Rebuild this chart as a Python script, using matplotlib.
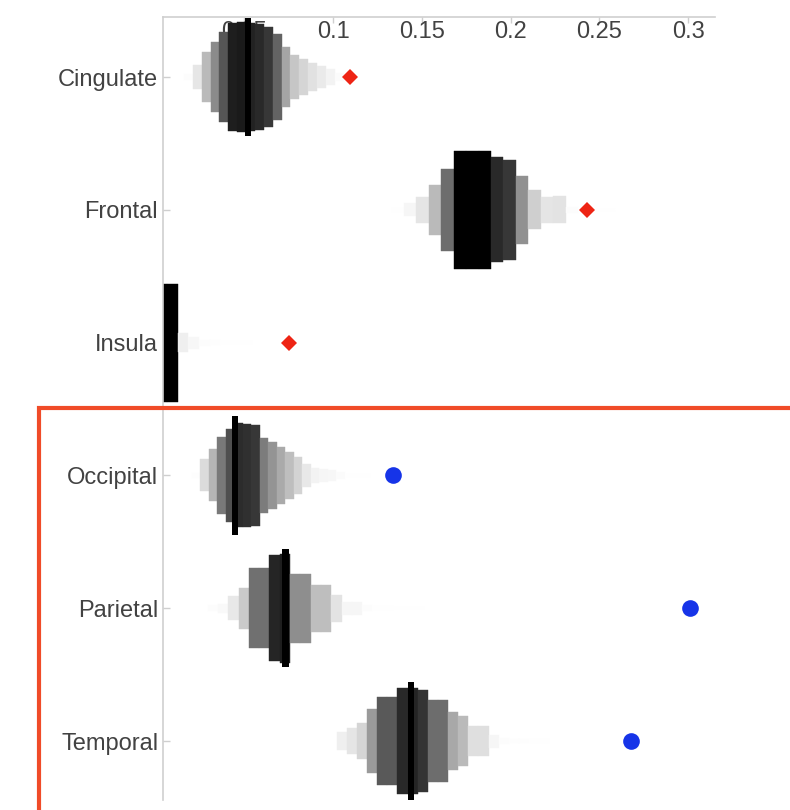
import matplotlib
matplotlib.use("Agg")
import matplotlib.pyplot as plt
from matplotlib.patches import Rectangle

plt.rcParams["font.family"] = ["Liberation Sans", "DejaVu Sans"]

# Brain regions, one row each (top to bottom)
regions = ["Cingulate", "Frontal", "Insula", "Occipital", "Parietal", "Temporal"]

# Median of each null distribution
medians = [0.0521, 0.178, 0.009, 0.0448, 0.0734, 0.1439]

# Observed statistic per region
observed = [0.1096, 0.243, 0.0752, 0.1338, 0.301, 0.268]
observed_marker = ["D", "D", "D", "o", "o", "o"]
observed_color = ["#ee2414", "#ee2414", "#ee2414", "#1634e8", "#1634e8", "#1634e8"]

# Histogram bins: first left edge and bin width per region
bin_start = [0.016, 0.133, 0.0005, 0.0203, 0.0294, 0.1021]
bin_width = [0.005, 0.007, 0.006, 0.0048, 0.0058, 0.0057]

# Relative bin densities (1 = tallest bin overall)
cingulate_bins = [0.05, 0.21, 0.42, 0.59, 0.76, 0.92, 0.93, 0.91, 0.89, 0.85,
                  0.72, 0.50, 0.37, 0.30, 0.24, 0.19, 0.13, 0.06, 0.03]
frontal_bins = [0.03, 0.11, 0.22, 0.42, 0.69, 1.0, 1.0, 1.0, 0.89, 0.85, 0.57,
                0.33, 0.22, 0.23, 0.05, 0.02, 0.02, 0.02, 0.01, 0.01, 0.01]
insula_bins = [1.0, 1.0, 0.16, 0.10, 0.05, 0.04, 0.03, 0.03, 0.02]
occipital_bins = [0.04, 0.27, 0.44, 0.65, 0.78, 0.88, 0.87, 0.85, 0.64, 0.56,
                  0.48, 0.40, 0.31, 0.20, 0.13, 0.11, 0.10, 0.06, 0.02, 0.02, 0.02]
parietal_bins = [0.05, 0.08, 0.20, 0.35, 0.68, 0.68, 0.90, 0.92, 0.58, 0.58,
                 0.40, 0.40, 0.23, 0.11, 0.11, 0.05, 0.03, 0.03, 0.02, 0.02, 0.02]
temporal_bins = [0.16, 0.22, 0.30, 0.54, 0.75, 0.75, 0.89, 0.90, 0.86, 0.69,
                 0.69, 0.49, 0.42, 0.25, 0.25, 0.11, 0.05, 0.04, 0.04, 0.03, 0.03]

all_bins = [cingulate_bins, frontal_bins, insula_bins,
            occipital_bins, parietal_bins, temporal_bins]

x_ticks = [0.05, 0.1, 0.15, 0.2, 0.25, 0.3]
x_tick_labels = ["0.05", "0.1", "0.15", "0.2", "0.25", "0.3"]

ROW_HEIGHT = 0.89
MEDIAN_WIDTH = 0.0038
TEXT_COLOR = "#424242"
AXIS_COLOR = "#cfcfcf"

fig = plt.figure(figsize=(7.9, 8.1), dpi=100)
ax = fig.add_axes([163 / 790, 1 - 800 / 810, (715 - 163) / 790, (800 - 17) / 810])
ax.set_axisbelow(True)

for row, (dens, x0, w) in enumerate(zip(all_bins, bin_start, bin_width)):
    lefts = [x0 + i * w for i in range(len(dens))]
    heights = [d * ROW_HEIGHT for d in dens]
    shades = [str(max(0.0, 1 - d ** 1.5)) for d in dens]
    ax.barh([row] * len(dens), [w] * len(dens), left=lefts, height=heights,
            color=shades, edgecolor=shades, linewidth=0.3, zorder=1)
    ax.barh(row, MEDIAN_WIDTH, left=medians[row] - MEDIAN_WIDTH / 2,
            height=ROW_HEIGHT, color="black", linewidth=0, zorder=2)
    ms = 8.5 if observed_marker[row] == "D" else 12
    ax.plot(observed[row], row, marker=observed_marker[row], ms=ms,
            color=observed_color[row], markeredgewidth=0, linestyle="none", zorder=3)

ax.set_xlim(0.0042, 0.3152)
ax.set_ylim(5.444, -0.452)

ax.set_yticks(range(len(regions)))
ax.set_yticklabels(regions)
ax.set_xticks(x_ticks)
ax.set_xticklabels(x_tick_labels)
ax.xaxis.set_ticks_position("top")
ax.tick_params(axis="x", direction="in", length=4, width=1, color=AXIS_COLOR,
               pad=-19, labelsize=17, labelcolor=TEXT_COLOR)
ax.tick_params(axis="y", direction="in", length=5, width=1, color=AXIS_COLOR,
               pad=3.5, labelsize=17, labelcolor=TEXT_COLOR)

for side in ("right", "bottom"):
    ax.spines[side].set_visible(False)
for side in ("left", "top"):
    ax.spines[side].set_color(AXIS_COLOR)
    ax.spines[side].set_linewidth(1.2)

# Highlight frame around the lower group of regions
frame = Rectangle((39 / 790, -0.2), 1.2, 1 - 407.5 / 810 + 0.2,
                  transform=fig.transFigure, fill=False,
                  edgecolor="#f04b28", linewidth=3, clip_on=False)
fig.add_artist(frame)

fig.savefig("out.png", dpi=100)
